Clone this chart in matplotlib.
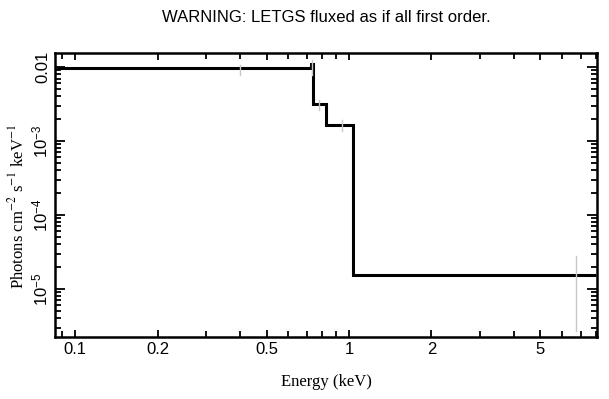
import matplotlib
matplotlib.use("Agg")
import numpy as np
from matplotlib import pyplot as plt
from matplotlib.ticker import FixedLocator, FixedFormatter, LogLocator, NullFormatter

# model histogram (bin edges in keV, flux per bin)
edges = [0.085, 0.725, 0.74, 0.825, 1.035, 8.0]
flux = [0.0097, 0.011, 0.0032, 0.00165, 1.55e-5]

# faint data points with error bars
pt_e = [0.40, 0.73, 0.78, 0.94, 6.73]
pt_lo = [0.0078, 0.0078, 0.0026, 0.00135, 2.7e-6]
pt_hi = [0.0106, 0.0125, 0.0036, 0.0019, 2.8e-5]

xticks = [0.1, 0.2, 0.5, 1, 2, 5]
xlabels = ["0.1", "0.2", "0.5", "1", "2", "5"]
yticks = [1e-5, 1e-4, 1e-3, 1e-2]
ylabels = [r"$10^{-5}$", r"$10^{-4}$", r"$10^{-3}$", "0.01"]

plt.rcParams["mathtext.fontset"] = "custom"
plt.rcParams["mathtext.rm"] = "Liberation Sans"
plt.rcParams["mathtext.it"] = "Liberation Sans:italic"

fig = plt.figure(figsize=(6.09, 3.99), dpi=100)
ax = fig.add_axes([0.0903, 0.1554, 0.89, 0.7118])

for e, lo, hi in zip(pt_e, pt_lo, pt_hi):
    ax.plot([e, e], [lo, hi], color="#c8c8c8", lw=1)

ax.stairs(flux, edges, color="black", lw=2.2, baseline=None)

ax.set_xscale("log")
ax.set_yscale("log")
ax.set_xlim(0.0845, 8.04)
ax.set_ylim(2.24e-6, 0.0155)

ax.xaxis.set_major_locator(FixedLocator(xticks))
ax.xaxis.set_major_formatter(FixedFormatter(xlabels))
ax.xaxis.set_minor_locator(LogLocator(base=10, subs=np.arange(1, 10)))
ax.xaxis.set_minor_formatter(NullFormatter())
ax.yaxis.set_major_locator(FixedLocator(yticks))
ax.yaxis.set_major_formatter(FixedFormatter(ylabels))
ax.yaxis.set_minor_locator(LogLocator(base=10, subs=np.arange(2, 10)))
ax.yaxis.set_minor_formatter(NullFormatter())

ax.tick_params(which="both", direction="in", top=True, right=True, width=1.3)
ax.tick_params(which="major", length=7, labelsize=12)
ax.tick_params(which="minor", length=4)
ax.tick_params(axis="x", which="major", length=5)
for lab in ax.get_xticklabels() + ax.get_yticklabels():
    lab.set_family("Liberation Sans")
for lab in ax.get_yticklabels():
    lab.set_rotation(90)
    lab.set_va("center")
for sp in ax.spines.values():
    sp.set_linewidth(1.8)

ax.set_xlabel("Energy (keV)", family="Liberation Serif", fontsize=12, labelpad=12)
ax.set_ylabel(r"Photons cm$^{-2}$ s$^{-1}$ keV$^{-1}$", family="Liberation Serif",
              fontsize=12, math_fontfamily="stix")
ax.yaxis.set_label_coords(-0.05, 0.46)

fig.suptitle("WARNING: LETGS fluxed as if all first order.", family="Liberation Sans", fontsize=12, x=0.535, y=0.975)

fig.savefig("out.png", dpi=100)
plt.close(fig)
